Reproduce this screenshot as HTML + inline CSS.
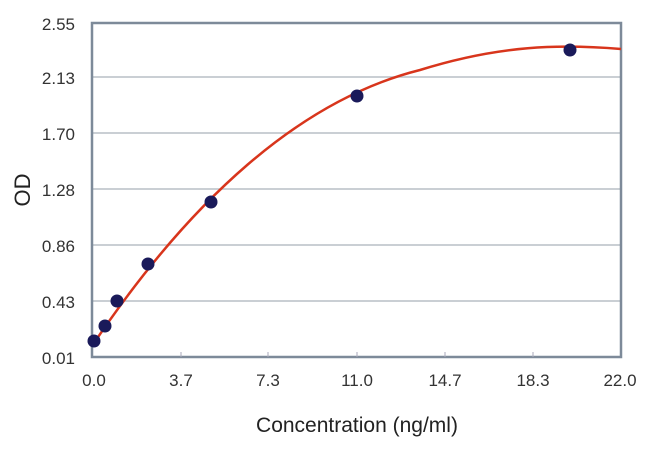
<!DOCTYPE html>
<html><head><style>body{margin:0;background:#fff}</style></head><body>
<svg width="650" height="453" xmlns="http://www.w3.org/2000/svg" font-family="Liberation Sans, sans-serif">
<rect width="650" height="453" fill="#fff"/>
<g stroke="#b8bfc6" stroke-width="1.5">
<line x1="92" y1="77" x2="621" y2="77"/><line x1="92" y1="133" x2="621" y2="133"/>
<line x1="92" y1="189" x2="621" y2="189"/><line x1="92" y1="245" x2="621" y2="245"/>
<line x1="92" y1="301" x2="621" y2="301"/>
</g>
<rect x="92" y="23" width="529" height="334" fill="none" stroke="#7d8a99" stroke-width="2.5"/>
<g stroke="#aab" stroke-width="1"><line x1="181" y1="352" x2="181" y2="357"/><line x1="268" y1="352" x2="268" y2="357"/><line x1="357" y1="352" x2="357" y2="357"/><line x1="445" y1="352" x2="445" y2="357"/><line x1="533" y1="352" x2="533" y2="357"/></g>
<path d="M92,346 C190,200 300,100 420,70 C500,45 560,44 621,49" fill="none" stroke="#d8351c" stroke-width="2.5"/>
<g fill="#1a1a5a">
<circle cx="94" cy="341" r="6.5"/><circle cx="105" cy="326" r="6.5"/><circle cx="117" cy="301" r="6.5"/>
<circle cx="148" cy="264" r="6.5"/><circle cx="211" cy="202" r="6.5"/><circle cx="357" cy="96" r="6.5"/><circle cx="570" cy="50" r="6.5"/>
</g>
<g font-size="17" fill="#333" text-anchor="end">
<text x="75" y="30">2.55</text><text x="75" y="84">2.13</text><text x="75" y="140">1.70</text>
<text x="75" y="196">1.28</text><text x="75" y="252">0.86</text><text x="75" y="308">0.43</text><text x="75" y="364">0.01</text>
</g>
<g font-size="17" fill="#333" text-anchor="middle">
<text x="94" y="386">0.0</text><text x="181" y="386">3.7</text><text x="268" y="386">7.3</text>
<text x="357" y="386">11.0</text><text x="445" y="386">14.7</text><text x="533" y="386">18.3</text><text x="620" y="386">22.0</text>
</g>
<text x="357" y="432" font-size="21" fill="#222" text-anchor="middle">Concentration (ng/ml)</text>
<text transform="translate(30,190) rotate(-90)" font-size="22" fill="#222" text-anchor="middle">OD</text>
</svg>
</body></html>
